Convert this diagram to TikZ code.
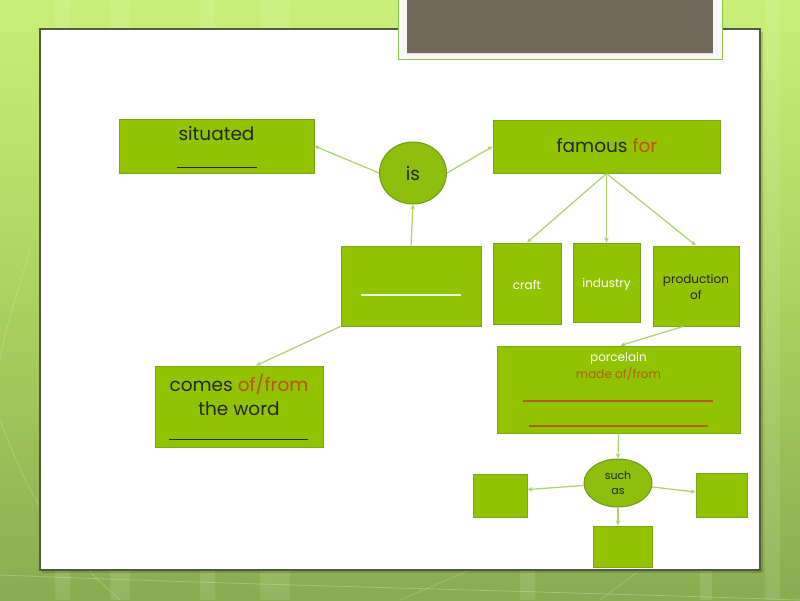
\documentclass[tikz,border=0pt]{standalone}
\usepackage{fontspec}
\setmainfont{Poppins}
\usetikzlibrary{shapes.geometric,arrows.meta,calc}
\definecolor{bgtop}{RGB}{200,240,120}
\definecolor{bgmid}{RGB}{170,210,95}
\definecolor{bgbot}{RGB}{138,172,82}
\definecolor{boxg}{RGB}{146,195,0}
\definecolor{boxline}{RGB}{120,165,25}
\definecolor{circg}{RGB}{142,190,14}
\definecolor{circline}{RGB}{110,155,24}
\definecolor{connc}{RGB}{168,212,104}
\definecolor{txtdark}{RGB}{38,38,38}
\definecolor{txtorange}{RGB}{190,80,30}
\definecolor{txtbrown}{RGB}{176,96,28}
\definecolor{panelline}{RGB}{78,92,62}
\definecolor{darkbox}{RGB}{114,105,90}
\definecolor{framegreen}{RGB}{140,195,75}
\tikzset{
  gbox/.style={draw=boxline, fill=boxg, line width=1pt, rectangle, inner sep=0pt},
  gell/.style={draw=circline, fill=circg, line width=1pt, ellipse, inner sep=0pt},
  conn/.style={draw=connc, line width=1.2pt, -{Stealth[length=5pt,width=4.5pt]}},
  bigtxt/.style={font=\fontsize{18.5}{24}\selectfont, text=txtdark, inner sep=0pt, align=center},
  smalltxt/.style={font=\fontsize{12}{15.5}\selectfont, inner sep=0pt, align=center},
  rulenode/.style={inner sep=0pt, outer sep=0pt},
  stripe/.style={fill=white, opacity=0.10}
}
\begin{document}
\begin{tikzpicture}[x=1pt,y=-1pt]
\useasboundingbox (0,0) rectangle (800,600);
% background
\fill[top color=bgtop, bottom color=bgbot, middle color=bgmid] (0,0) rectangle (800,600);
\fill[stripe] (55,0) rectangle (70,600);
\fill[stripe] (110,0) rectangle (130,600);
\fill[stripe] (200,0) rectangle (215,600);
\fill[stripe] (260,0) rectangle (290,600);
\fill[stripe] (520,0) rectangle (535,600);
\fill[stripe] (700,0) rectangle (712,600);
\fill[stripe] (765,0) rectangle (780,600);
\draw[white, opacity=0.25, line width=0.8pt] (0,575) .. controls (250,585) and (500,590) .. (800,600);
\draw[white, opacity=0.2, line width=0.8pt] (0,420) .. controls (20,470) and (40,530) .. (120,600);
\draw[white, opacity=0.2, line width=0.8pt] (30,250) .. controls (15,300) and (5,330) .. (0,360);
\draw[white, opacity=0.2, line width=0.8pt] (400,600) -- (470,570);
\draw[white, opacity=0.2, line width=0.8pt] (600,600) -- (640,570);
% panel
\fill[black, opacity=0.15] (42,32) rectangle (763,573);
\draw[panelline, fill=white, line width=1.3pt] (40,29) rectangle (760,570);
% title box
\draw[framegreen, fill=white!94!gray, line width=1pt] (398,-2) rectangle (722,59);
\fill[darkbox] (407,-2) rectangle (713,53);
\draw[white!75!gray, line width=0.8pt] (407,53) -- (713,53);

% nodes
\node[gbox, minimum width=195pt, minimum height=54pt] (sit) at (216.5,146) {};
\node[bigtxt] (sitT) at (216.5,134) {situated};
\node[rulenode] (sitU) at (217,167) {\color{txtdark}\rule{80pt}{0.9pt}};

\node[gell, minimum width=67pt, minimum height=62pt] (is) at (413,173) {};
\node[bigtxt] (isT) at (413,174) {is};

\node[gbox, minimum width=227pt, minimum height=53pt] (fam) at (606.5,146.5) {};
\node[bigtxt] (famT) at (607,146) {famous \textcolor{txtorange}{for}};

\node[gbox, minimum width=140pt, minimum height=80pt] (blank) at (411,286) {};
\node[rulenode] (blankU) at (411,295) {\color{white!85!boxg}\rule{100pt}{1.8pt}};

\node[gbox, minimum width=68pt, minimum height=81pt] (craft) at (527,283.5) {};
\node[smalltxt, text=white] (craftT) at (527,285) {craft};

\node[gbox, minimum width=67pt, minimum height=79pt] (ind) at (606.5,282.5) {};
\node[smalltxt, text=white] (indT) at (606.5,284) {industry};

\node[gbox, minimum width=86pt, minimum height=80pt] (prod) at (696,286) {};
\node[smalltxt, text=txtdark] (prodT) at (696,287) {production\\of};

\node[gbox, minimum width=168pt, minimum height=81pt] (comes) at (239,406.5) {};
\node[bigtxt] (comesT) at (239,395) {comes \textcolor{txtorange}{of/from}\\the word};
\node[rulenode] (comesU) at (238.5,439) {\color{txtdark}\rule{139pt}{0.9pt}};

\node[gbox, minimum width=243pt, minimum height=87pt] (porc) at (618.5,389.5) {};
\node[smalltxt, text=white] (porcT) at (618.5,358) {porcelain};
\node[smalltxt, text=txtbrown] (madeT) at (618.5,374) {made of/from};
\node[rulenode] (porcU1) at (618,401) {\color{txtbrown}\rule{190pt}{1.1pt}};
\node[rulenode] (porcU2) at (618.5,426) {\color{txtbrown}\rule{179pt}{1.1pt}};

\node[gell, minimum width=68pt, minimum height=48pt] (such) at (618,483) {};
\node[smalltxt, text=txtdark, font=\fontsize{11}{14.5}\selectfont] (suchT) at (618,483) {such\\as};

\node[gbox, minimum width=54pt, minimum height=43pt] (lbox) at (500,495.5) {};
\node[gbox, minimum width=51pt, minimum height=44pt] (rbox) at (721.5,495) {};
\node[gbox, minimum width=59pt, minimum height=41pt] (bbox) at (622.5,546.5) {};

% connectors
\draw[conn] (is.west) -- (sit.east);
\draw[conn] (is.east) -- (fam.west);
\draw[conn] (blank.north) -- (is.south);
\draw[conn] (blank.south west) -- ([xshift=17pt]comes.north);
\draw[conn] (fam.south) -- (craft.north);
\draw[conn] (fam.south) -- (ind.north);
\draw[conn] (fam.south) -- (prod.north);
\draw[conn] ([xshift=-13pt]prod.south) -- ([xshift=2pt]porc.north);
\draw[conn] (porc.south) -- (such.north);
\draw[conn] (such) -- ([yshift=6pt]lbox.east);
\draw[conn] (such) -- ([yshift=3pt]rbox.west);
\draw[conn] (such.south) -- (such.south |- bbox.north);
\end{tikzpicture}
\end{document}
